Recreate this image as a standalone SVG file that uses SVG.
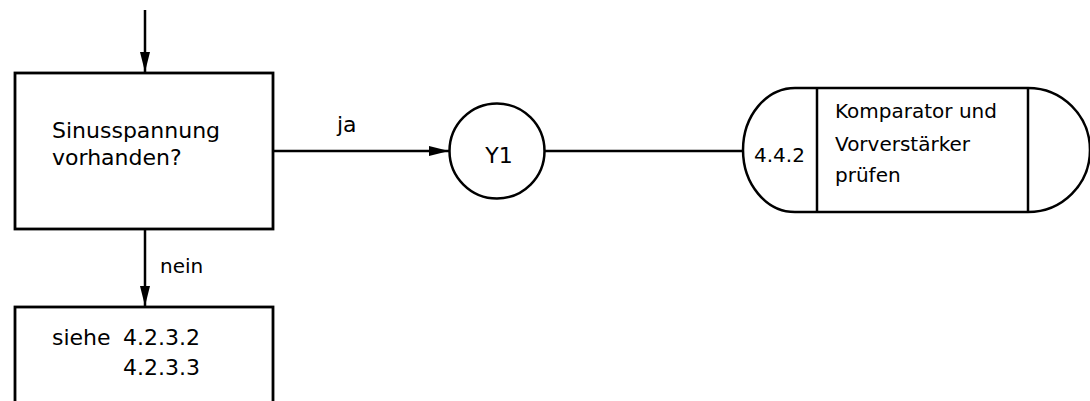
<svg xmlns="http://www.w3.org/2000/svg" width="1090" height="401" viewBox="0 0 1090 401">
<style>
.box{fill:#fff;stroke:#000;stroke-width:2.8}
.ln{fill:none;stroke:#000;stroke-width:2.5}
.t{font-family:"DejaVu Sans",sans-serif;fill:#000}
.l{font-size:22px}
.s{font-size:20px}
</style>
<defs>
<marker id="ah" markerWidth="20" markerHeight="10" refX="20" refY="5" orient="auto" markerUnits="userSpaceOnUse">
<path d="M0,0 L20,5 L0,10 Z" fill="#000"/>
</marker>
</defs>
<rect width="1090" height="401" fill="#fff"/>
<g id="connectors">
<line class="ln" x1="145" y1="10" x2="145" y2="72" marker-end="url(#ah)"/>
<line class="ln" x1="273" y1="151" x2="449" y2="151" marker-end="url(#ah)"/>
<text class="t l" x="337" y="132">ja</text>
<line class="ln" x1="145" y1="229" x2="145" y2="306" marker-end="url(#ah)"/>
<text class="t s" x="160" y="273">nein</text>
<line class="ln" x1="545" y1="151" x2="742" y2="151"/>
</g>
<g id="n1">
<rect class="box" x="15" y="73" width="258" height="156"/>
<text class="t l" x="52" y="138">Sinusspannung</text>
<text class="t l" x="52" y="165">vorhanden?</text>
</g>
<g id="n2">
<rect class="box" x="15" y="307" width="258" height="120"/>
<text class="t l" x="52" y="345">siehe<tspan x="123">4.2.3.2</tspan></text>
<text class="t l" x="123" y="375">4.2.3.3</text>
</g>
<g id="y1">
<circle class="ln" cx="497" cy="151" r="47.5"/>
<text class="t l" x="499" y="163" text-anchor="middle">Y1</text>
</g>
<g id="t1">
<path class="ln" d="M795,88 H1028 A62,62 0 0 1 1028,212 H795 A52,62 0 0 1 795,88 Z"/>
<line class="ln" x1="817" y1="88" x2="817" y2="212"/>
<line class="ln" x1="1028" y1="88" x2="1028" y2="212"/>
<text class="t s" x="754" y="162">4.4.2</text>
<text class="t s" x="835" y="118">Komparator und</text>
<text class="t s" x="835" y="151">Vorverstärker</text>
<text class="t s" x="835" y="182">prüfen</text>
</g>
</svg>
